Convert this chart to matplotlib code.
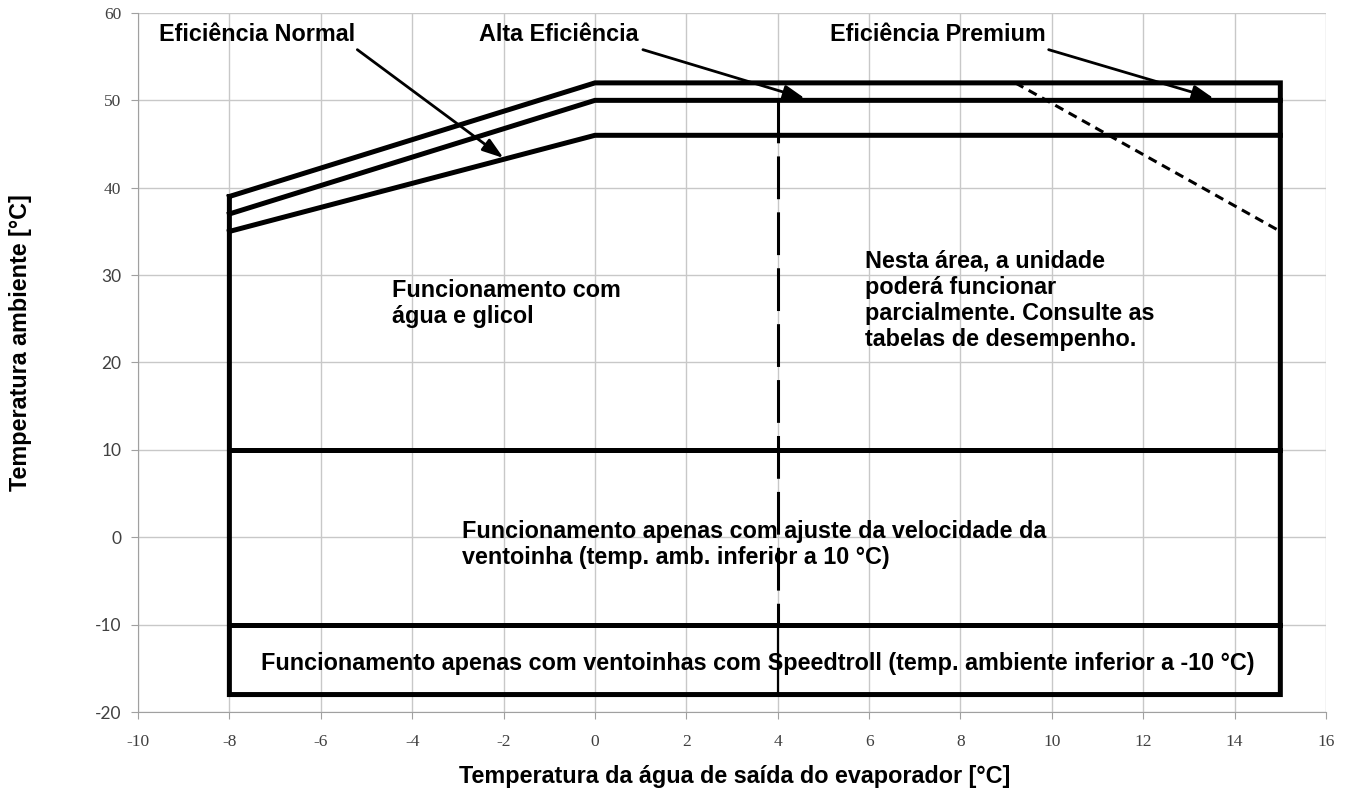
import matplotlib.pyplot as plt

# envelope points (x = leaving water temp, y = ambient temp)
knee_x = [-8, 0, 15]
premium_y = [39, 52, 52]
alta_y = [37, 50, 50]
normal_y = [35, 46, 46]

x_min, x_max = -8, 15
y_bottom = -18
y_speedtroll = -10
y_fan = 10
x_partial = 4
partial_top = 50
premium_limit_x = [9.2, 15]
premium_limit_y = [52, 35]

x_ticks = list(range(-10, 17, 2))
y_ticks = list(range(-20, 61, 10))

labels = ["Eficiência Normal", "Alta Eficiência", "Eficiência Premium"]
label_pos = [(-7.4, 57.5), (-0.8, 57.5), (7.5, 57.5)]
arrow_start = [(-5.2, 55.8), (1.05, 55.8), (9.93, 55.8)]
arrow_end = [(-2.0, 43.4), (4.6, 50.2), (13.55, 50.2)]

plt.rcParams["font.family"] = ["Liberation Sans", "DejaVu Sans"]
plt.rcParams["axes.unicode_minus"] = False

fig = plt.figure(figsize=(13.45, 7.96), dpi=100)
ax = fig.add_axes([0.1026, 0.1055, 0.8833, 0.8782])

lw = 3.6
kw = dict(color="black", lw=lw, solid_joinstyle="miter", solid_capstyle="projecting")

# outer envelope (premium)
ax.plot(knee_x + [x_max, x_min, x_min],
        premium_y + [y_bottom, y_bottom, premium_y[0]], **kw)
ax.plot(knee_x, alta_y, **kw)
ax.plot(knee_x, normal_y, **kw)
ax.plot([x_min, x_max], [y_fan, y_fan], **kw)
ax.plot([x_min, x_max], [y_speedtroll, y_speedtroll], **kw)

# partial-load boundary
ax.plot([x_partial, x_partial], [partial_top, y_speedtroll], color="black",
        lw=2.2, dashes=(14, 4.3))
ax.plot([x_partial, x_partial], [y_speedtroll, y_bottom], color="black", lw=1.6)
ax.plot(premium_limit_x, premium_limit_y, color="black", lw=2.2, dashes=(3, 2))

fs = 16.8
bold = dict(fontsize=fs, fontweight="bold", color="black")
for lab, pos, a0, a1 in zip(labels, label_pos, arrow_start, arrow_end):
    ax.text(pos[0], pos[1], lab, ha="center", va="center", **bold)
    ax.annotate("", xy=a1, xytext=a0,
                arrowprops=dict(arrowstyle="-|>,head_length=0.75,head_width=0.25",
                                lw=2, color="black", mutation_scale=17,
                                shrinkA=0, shrinkB=0))

ax.text(-4.44, 29.6, "Funcionamento com\nágua e glicol", ha="left", va="top",
        linespacing=1.17, **bold)
ax.text(5.9, 32.9, "Nesta área, a unidade\npoderá funcionar\nparcialmente. Consulte as\ntabelas de desempenho.",
        ha="left", va="top", linespacing=1.17, **bold)
ax.text(-2.91, 2.0, "Funcionamento apenas com ajuste da velocidade da\nventoinha (temp. amb. inferior a 10 °C)",
        ha="left", va="top", linespacing=1.17, **bold)
ax.text(3.57, -14.4, "Funcionamento apenas com ventoinhas com Speedtroll (temp. ambiente inferior a -10 °C)",
        ha="center", va="center", **bold)

ax.set_xlim(-10, 16)
ax.set_ylim(-20, 60)
ax.set_xticks(x_ticks)
ax.set_yticks(y_ticks)
ax.grid(True, color="#c8c8c8", lw=1)
ax.set_axisbelow(True)
for side in ["top", "right"]:
    ax.spines[side].set_visible(False)
for side in ["left", "bottom"]:
    ax.spines[side].set_color("#a0a0a0")
ax.tick_params(axis="both", colors="#a0a0a0", labelcolor="#404040", length=5)
ax.tick_params(axis="x", pad=11)
ax.tick_params(axis="y", pad=7)
for t in ax.get_xticklabels():
    t.set_fontfamily("Liberation Serif")
    t.set_fontsize(12.5)
for t, v in zip(ax.get_yticklabels(), y_ticks):
    t.set_fontfamily("Liberation Serif" if v >= 40 else "Lato")
    t.set_fontsize(12.5)

fig.text(0.0156, 0.570, "Temperatura ambiente [°C]", rotation=90, ha="center",
         va="center", fontsize=fs, fontweight="bold")
fig.text(0.546, 0.024, "Temperatura da água de saída do evaporador [°C]",
         ha="center", va="center", fontsize=fs, fontweight="bold")

fig.savefig("out.png", dpi=100)
